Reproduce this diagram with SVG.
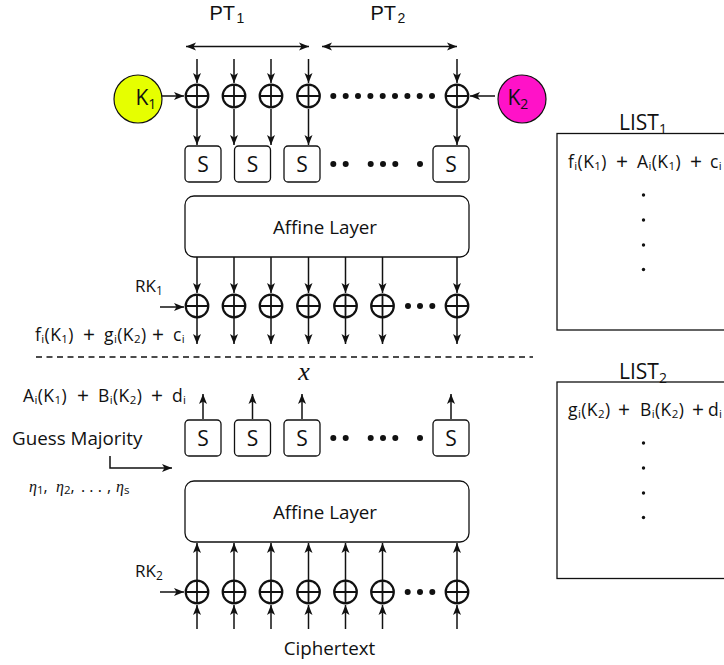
<svg xmlns="http://www.w3.org/2000/svg" width="724" height="665" viewBox="0 0 724 665">
<style>
text{font-family:"Open Sans","Noto Sans",sans-serif;fill:#111}
.l{font-size:21px}.m{font-size:18.800px}.s{font-size:17px}
.c{text-anchor:middle}
.q{font-size:17.500px;letter-spacing:.4px}
.u{font-size:11.500px}
.p{font-size:21px}
.b{fill:#fff;stroke:#111;stroke-width:1.3}
.x{fill:#fff;stroke:#111;stroke-width:2.2}
.xl{stroke:#111;stroke-width:1.8;fill:none}
.a{stroke:#111;stroke-width:1.5;fill:none;marker-end:url(#h)}
.d{fill:#111;stroke:none}
.e{font-family:"Liberation Serif",serif;font-style:italic}
.pt{font-family:"Liberation Sans",sans-serif;font-size:20px}
</style>
<defs>
<marker id="h" markerUnits="userSpaceOnUse" markerWidth="12" markerHeight="10" refX="10" refY="5" orient="auto"><path d="M0,1 L10,5 L0,9 L2.5,5 Z" fill="#111"/></marker>
<marker id="hs" markerUnits="userSpaceOnUse" markerWidth="12" markerHeight="10" refX="10" refY="5" orient="auto-start-reverse"><path d="M0,1 L10,5 L0,9 L2.5,5 Z" fill="#111"/></marker>
<g id="xor"><circle r="11.300" class="x"/><path d="M-11.300,0H11.300M0,-11.300V11.300" class="xl"/></g>
<rect id="sb" width="36" height="36" rx="4" class="b"/>
</defs>

<g id="connectors">
<path d="M186,46.500H309" class="a" style="marker-start:url(#hs);marker-end:url(#hs)"/>
<path d="M322,46.500H457" class="a" style="marker-start:url(#hs);marker-end:url(#hs)"/>
<path d="M197,59V83" class="a"/><path d="M234,59V83" class="a"/><path d="M271,59V83" class="a"/><path d="M308.500,59V83" class="a"/><path d="M457,59V83" class="a"/>
<path d="M197,109V145" class="a"/><path d="M234,109V145" class="a"/><path d="M271,109V145" class="a"/><path d="M308.500,109V145" class="a"/><path d="M457,109V145" class="a"/>
<path d="M162,96H184" class="a"/><path d="M495,96H470" class="a"/>
<path d="M197,257V293" class="a"/><path d="M234,257V293" class="a"/><path d="M271,257V293" class="a"/><path d="M308.500,257V293" class="a"/><path d="M345.500,257V293" class="a"/><path d="M382.500,257V293" class="a"/><path d="M457,257V293" class="a"/>
<path d="M197,318V344" class="a"/><path d="M234,318V344" class="a"/><path d="M271,318V344" class="a"/><path d="M308.500,318V344" class="a"/><path d="M345.500,318V344" class="a"/><path d="M382.500,318V344" class="a"/><path d="M457,318V344" class="a"/>
<path d="M160,307H184" class="a"/>
<path d="M36,357H533" stroke="#111" stroke-width="1.3" stroke-dasharray="6,4.500" fill="none"/>
<path d="M203,419V394" class="a"/><path d="M252.500,419V394" class="a"/><path d="M302,419V394" class="a"/><path d="M451,419V394" class="a"/>
<path d="M110,456V468H172" class="a"/>
<path d="M197,580V543" class="a"/><path d="M234,580V543" class="a"/><path d="M271,580V543" class="a"/><path d="M308.500,580V543" class="a"/><path d="M345.500,580V543" class="a"/><path d="M382.500,580V543" class="a"/><path d="M457,580V543" class="a"/>
<path d="M197,629V605" class="a"/><path d="M234,629V605" class="a"/><path d="M271,629V605" class="a"/><path d="M308.500,629V605" class="a"/><path d="M345.500,629V605" class="a"/><path d="M382.500,629V605" class="a"/><path d="M457,629V605" class="a"/>
<path d="M160,592H184" class="a"/>
</g>

<g id="k1"><circle cx="138" cy="99" r="24" fill="#e6ff00" stroke="#111" stroke-width="1.2"/><text x="135.500" y="105" class="l">K<tspan font-size="14" dy="4">1</tspan></text></g>
<g id="k2"><circle cx="522" cy="99" r="24" fill="#ff12c8" stroke="#111" stroke-width="1.2"/><text x="507.500" y="105" class="l">K<tspan font-size="14" dy="4">2</tspan></text></g>

<g id="xor-row-1"><use href="#xor" x="197" y="96"/><use href="#xor" x="234" y="96"/><use href="#xor" x="271" y="96"/><use href="#xor" x="308.500" y="96"/><use href="#xor" x="457" y="96"/></g>
<g id="dots-1" class="d"><circle cx="333.300" cy="96" r="3"/><circle cx="345.700" cy="96" r="3"/><circle cx="358" cy="96" r="3"/><circle cx="370.400" cy="96" r="3"/><circle cx="382.700" cy="96" r="3"/><circle cx="395" cy="96" r="3"/><circle cx="407.400" cy="96" r="3"/><circle cx="419.700" cy="96" r="3"/><circle cx="432" cy="96" r="3"/></g>

<g id="sbox-row-1"><use href="#sb" x="185" y="146"/><use href="#sb" x="234.500" y="146"/><use href="#sb" x="284" y="146"/><use href="#sb" x="433" y="146"/>
<text x="203" y="171.500" class="l c">S</text><text x="252.500" y="171.500" class="l c">S</text><text x="302" y="171.500" class="l c">S</text><text x="451" y="171.500" class="l c">S</text></g>
<g id="dots-2" class="d"><circle cx="333.300" cy="164" r="3"/><circle cx="345.700" cy="164" r="3"/><circle cx="370.700" cy="164" r="3"/><circle cx="383" cy="164" r="3"/><circle cx="395.300" cy="164" r="3"/><circle cx="420" cy="164" r="3"/></g>

<g id="affine-1"><rect x="185" y="196" width="284" height="61" rx="9" class="b"/><text x="325" y="234" class="m c">Affine Layer</text></g>

<g id="rk1"><text x="135" y="292" class="s">RK<tspan font-size="12" dy="3">1</tspan></text></g>
<g id="xor-row-2"><use href="#xor" x="197" y="306"/><use href="#xor" x="234" y="306"/><use href="#xor" x="271" y="306"/><use href="#xor" x="308.500" y="306"/><use href="#xor" x="345.500" y="306"/><use href="#xor" x="382.500" y="306"/><use href="#xor" x="457" y="306"/></g>
<g id="dots-3" class="d"><circle cx="408" cy="306" r="3"/><circle cx="420" cy="306" r="3"/><circle cx="432.300" cy="306" r="3"/></g>
<text id="eq-1" y="341" class="q"><tspan x="35">f</tspan><tspan class="u" dy="2">i</tspan><tspan dy="-2">(K</tspan><tspan class="u" dy="2">1</tspan><tspan dy="-2">)</tspan><tspan class="p" x="83" dy="1">+</tspan><tspan x="104" dy="-1">g</tspan><tspan class="u" dy="2">i</tspan><tspan dy="-2">(K</tspan><tspan class="u" dy="2">2</tspan><tspan dy="-2">)</tspan><tspan class="p" x="152" dy="1">+</tspan><tspan x="173" dy="-1">c</tspan><tspan class="u" dy="2">i</tspan></text>

<text id="x-label" x="304" y="380" font-size="26" class="c e">x</text>
<text id="eq-2" y="402" class="q"><tspan x="23">A</tspan><tspan class="u" dy="2">i</tspan><tspan dy="-2">(K</tspan><tspan class="u" dy="2">1</tspan><tspan dy="-2">)</tspan><tspan class="p" x="77" dy="1">+</tspan><tspan x="98" dy="-1">B</tspan><tspan class="u" dy="2">i</tspan><tspan dy="-2">(K</tspan><tspan class="u" dy="2">2</tspan><tspan dy="-2">)</tspan><tspan class="p" x="151" dy="1">+</tspan><tspan x="172" dy="-1">d</tspan><tspan class="u" dy="2">i</tspan></text>
<text id="guess" x="12" y="445" class="m">Guess Majority</text>
<text id="etas" y="492" font-size="16"><tspan class="e" x="29">η</tspan><tspan class="u" dy="2">1</tspan><tspan dy="-2">,</tspan><tspan class="e" x="56">η</tspan><tspan class="u" dy="2">2</tspan><tspan dy="-2">,</tspan><tspan x="81">. . .</tspan><tspan x="107">,</tspan><tspan class="e" x="116">η</tspan><tspan class="u" dy="2">s</tspan></text>

<g id="sbox-row-2"><use href="#sb" x="185" y="420"/><use href="#sb" x="234.500" y="420"/><use href="#sb" x="284" y="420"/><use href="#sb" x="433" y="420"/>
<text x="203" y="445.500" class="l c">S</text><text x="252.500" y="445.500" class="l c">S</text><text x="302" y="445.500" class="l c">S</text><text x="451" y="445.500" class="l c">S</text></g>
<g id="dots-4" class="d"><circle cx="333.300" cy="438" r="3"/><circle cx="345.700" cy="438" r="3"/><circle cx="370.700" cy="438" r="3"/><circle cx="383" cy="438" r="3"/><circle cx="395.300" cy="438" r="3"/><circle cx="420" cy="438" r="3"/></g>

<g id="affine-2"><rect x="185" y="481" width="284" height="61" rx="9" class="b"/><text x="325" y="519" class="m c">Affine Layer</text></g>

<g id="rk2"><text x="135" y="577" class="s">RK<tspan font-size="12" dy="3">2</tspan></text></g>
<g id="xor-row-3"><use href="#xor" x="197" y="592"/><use href="#xor" x="234" y="592"/><use href="#xor" x="271" y="592"/><use href="#xor" x="308.500" y="592"/><use href="#xor" x="345.500" y="592"/><use href="#xor" x="382.500" y="592"/><use href="#xor" x="457" y="592"/></g>
<g id="dots-5" class="d"><circle cx="407.700" cy="592" r="3"/><circle cx="420" cy="592" r="3"/><circle cx="432.300" cy="592" r="3"/></g>
<text id="ciphertext" x="329.500" y="655" class="m c">Ciphertext</text>

<g id="pt"><text x="209.500" y="19.500" class="pt">PT<tspan font-size="14" dx="1.500" dy="3.500">1</tspan></text><text x="370.500" y="19.500" class="pt">PT<tspan font-size="14" dx="1.500" dy="3.500">2</tspan></text></g>

<g id="list-1"><rect x="557" y="133.500" width="200" height="196.500" class="b"/>
<text x="619" y="130" class="l">LIST<tspan font-size="14" dy="4">1</tspan></text>
<text id="eq-3" y="168" class="q"><tspan x="568">f</tspan><tspan class="u" dy="2">i</tspan><tspan dy="-2">(K</tspan><tspan class="u" dy="2">1</tspan><tspan dy="-2">)</tspan><tspan class="p" x="616" dy="1">+</tspan><tspan x="637" dy="-1">A</tspan><tspan class="u" dy="2">i</tspan><tspan dy="-2">(K</tspan><tspan class="u" dy="2">1</tspan><tspan dy="-2">)</tspan><tspan class="p" x="690" dy="1">+</tspan><tspan x="710" dy="-1">c</tspan><tspan class="u" dy="2">i</tspan></text>
<g class="d"><circle cx="643.500" cy="195" r="1.700"/><circle cx="643.500" cy="220" r="1.700"/><circle cx="643.500" cy="245" r="1.700"/><circle cx="643.500" cy="269.500" r="1.700"/></g></g>

<g id="list-2"><rect x="557" y="382" width="200" height="196.500" class="b"/>
<text x="619" y="379" class="l">LIST<tspan font-size="14" dy="4">2</tspan></text>
<text id="eq-4" y="416" class="q"><tspan x="568">g</tspan><tspan class="u" dy="2">i</tspan><tspan dy="-2">(K</tspan><tspan class="u" dy="2">2</tspan><tspan dy="-2">)</tspan><tspan class="p" x="618" dy="1">+</tspan><tspan x="640" dy="-1">B</tspan><tspan class="u" dy="2">i</tspan><tspan dy="-2">(K</tspan><tspan class="u" dy="2">2</tspan><tspan dy="-2">)</tspan><tspan class="p" x="692" dy="1">+</tspan><tspan x="708" dy="-1">d</tspan><tspan class="u" dy="2">i</tspan></text>
<g class="d"><circle cx="643.500" cy="443" r="1.700"/><circle cx="643.500" cy="468" r="1.700"/><circle cx="643.500" cy="493" r="1.700"/><circle cx="643.500" cy="517.500" r="1.700"/></g></g>
</svg>
